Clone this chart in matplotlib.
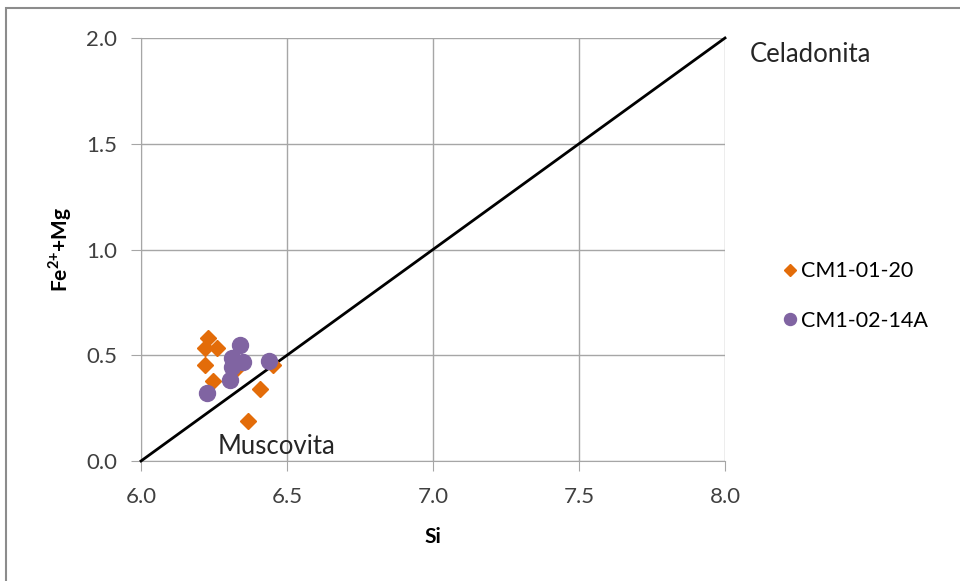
import matplotlib
matplotlib.use("Agg")
import matplotlib.pyplot as plt
from matplotlib.patches import Rectangle

plt.rcParams['font.family'] = ['Lato', 'DejaVu Sans']
plt.rcParams['mathtext.fontset'] = 'custom'
plt.rcParams['mathtext.rm'] = 'Lato'
plt.rcParams['mathtext.bf'] = 'Lato:bold'

# Data
s1_name = "CM1-01-20"
s1_si = [6.230, 6.219, 6.259, 6.219, 6.248, 6.408, 6.367, 6.322, 6.453]
s1_fm = [0.580, 0.533, 0.533, 0.454, 0.380, 0.339, 0.189, 0.430, 0.454]

s2_name = "CM1-02-14A"
s2_si = [6.339, 6.311, 6.350, 6.312, 6.305, 6.225, 6.439]
s2_fm = [0.548, 0.486, 0.469, 0.444, 0.383, 0.320, 0.473]

line_si = [6.0, 8.0]
line_fm = [0.0, 2.0]

xticks = [6.0, 6.5, 7.0, 7.5, 8.0]
yticks = [0.0, 0.5, 1.0, 1.5, 2.0]

orange = '#E36C09'
purple = '#8064A2'

fig = plt.figure(figsize=(9.6, 5.81), dpi=100)
ax = fig.add_axes([141/960, (581-461)/581, (725-141)/960, (461-38)/581])

ax.plot(line_si, line_fm, color='black', lw=2, zorder=3, clip_on=False)
ax.plot(s1_si, s1_fm, linestyle='none', marker='D', color=orange, markersize=8.5, zorder=4, label=s1_name, clip_on=False)
ax.plot(s2_si, s2_fm, linestyle='none', marker='o', color=purple, markersize=11.5, zorder=5, label=s2_name, clip_on=False)

ax.set_xlim(6.0, 8.0)
ax.set_ylim(0.0, 2.0)
ax.set_xticks(xticks)
ax.set_yticks(yticks)
ax.set_xticklabels([f"{v:.1f}" for v in xticks])
ax.set_yticklabels([f"{v:.1f}" for v in yticks])
ax.grid(True, color='#A6A6A6', lw=1)
ax.set_axisbelow(True)
for side in ['top', 'right']:
    ax.spines[side].set_visible(False)
for side in ['left', 'bottom']:
    ax.spines[side].set_color('#A6A6A6')
ax.tick_params(axis='both', length=7, color='#A6A6A6', labelsize=16, labelcolor='#404040')
ax.tick_params(axis='y', pad=10)
ax.tick_params(axis='x', pad=12)

ax.set_xlabel("Si", fontsize=15, fontweight='bold', labelpad=14)
ax.set_ylabel(r"Fe$^{\mathbf{2}\mathbf{+}}$+Mg", fontsize=15, fontweight='bold', labelpad=9)

ax.text(6.264, 0.07, "Muscovita", fontsize=18.5, color='#262626', ha='left', va='center')
ax.text(8.085, 1.92, "Celadonita", fontsize=18.5, color='#262626', ha='left', va='center', clip_on=False)

leg = ax.legend(loc='center left', bbox_to_anchor=(1.095, 0.39), frameon=False, fontsize=15.5,
                handletextpad=0.05, labelspacing=1.35, handlelength=0.9, markerscale=0.75,
                borderpad=0, borderaxespad=0)

# figure border
fig.add_artist(Rectangle((6/960, -0.01), 1.0, (581-8)/581 + 0.01, transform=fig.transFigure,
                         fill=False, edgecolor='#8C8C8C', lw=1.5))

fig.savefig("out.png", dpi=100)
